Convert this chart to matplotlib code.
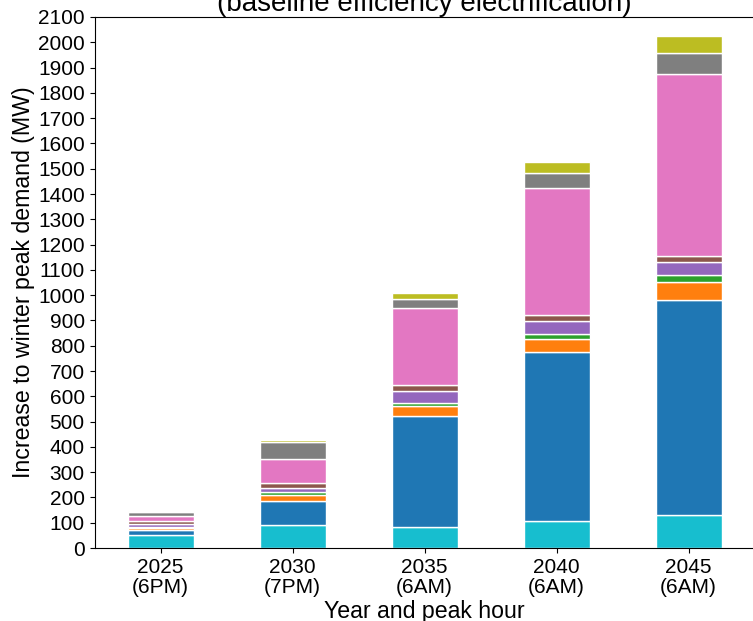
import matplotlib
matplotlib.use("Agg")
import matplotlib.pyplot as plt
import numpy as np

plt.rcParams['font.family'] = ['Liberation Sans', 'DejaVu Sans']

# Years and the hour at which the winter peak occurs
years = ["2025", "2030", "2035", "2040", "2045"]
peak_hours = ["(6PM)", "(7PM)", "(6AM)", "(6AM)", "(6AM)"]

# Increase to winter peak demand (MW) by stacked component, bottom to top
layer_cyan   = [51, 91, 83, 107, 130]
layer_blue   = [20, 95, 440, 668, 851]
layer_orange = [9, 25, 40, 52, 72]
layer_green  = [4, 12, 12, 21, 26]
layer_purple = [11, 15, 47, 51, 53]
layer_brown  = [13, 18, 23, 22, 23]
layer_pink   = [18, 96, 303, 502, 718]
layer_gray   = [17, 66, 36, 59, 84]
layer_olive  = [2, 9, 26, 43, 68]

layers = [layer_cyan, layer_blue, layer_orange, layer_green, layer_purple,
          layer_brown, layer_pink, layer_gray, layer_olive]
colors = ["tab:cyan", "tab:blue", "tab:orange", "tab:green", "tab:purple",
          "tab:brown", "tab:pink", "tab:gray", "tab:olive"]

fig = plt.figure(figsize=(7.53, 6.21), dpi=100)
W, H = 753, 621
ax = fig.add_axes([94.5 / W, 1 - 548 / H, 660 / W, 531 / H])

x = np.arange(len(years))
bottom = np.zeros(len(years))
for vals, c in zip(layers, colors):
    ax.bar(x, vals, width=0.5, bottom=bottom, color=c, edgecolor="white",
           linewidth=1)
    bottom += np.array(vals, dtype=float)

ax.set_xlim(-0.5, 4.5)
ax.set_ylim(0, 2100)
ax.set_yticks(np.arange(0, 2101, 100))
ax.set_xticks(x)
ax.set_xticklabels([f"{y}\n{h}" for y, h in zip(years, peak_hours)],
                   fontsize=15, linespacing=1.1)
ax.tick_params(axis="y", labelsize=15)
ax.set_ylabel("Increase to winter peak demand (MW)", fontsize=16.7,
              labelpad=2)
ax.set_xlabel("Year and peak hour", fontsize=16.7, labelpad=2)
ax.set_title("(baseline efficiency electrification)", fontsize=20, pad=4.3)

fig.savefig("out.png", dpi=100)
